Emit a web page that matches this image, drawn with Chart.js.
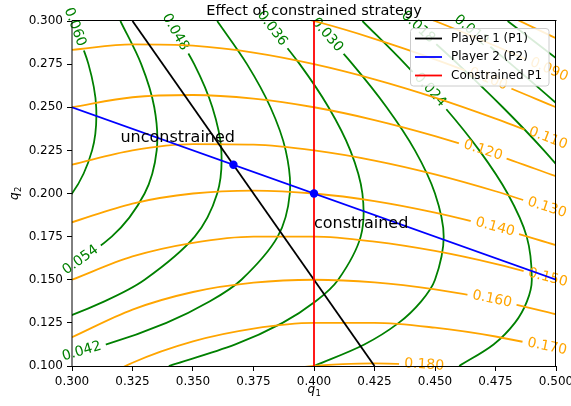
<!DOCTYPE html>
<html>
<head>
<meta charset="utf-8">
<script src="https://cdn.jsdelivr.net/npm/chart.js@4.4.1/dist/chart.umd.min.js"></script>
<style>
  html, body { margin: 0; padding: 0; background: #fff; }
</style>
</head>
<body>
<canvas id="chart" width="571" height="406"></canvas>
<script>
const FONT = '"DejaVu Sans", sans-serif';

// Grids the contour curves are sampled on
const q1Grid = [0.300, 0.325, 0.350, 0.375, 0.400, 0.425, 0.450, 0.475, 0.500];
const q2Grid = [0.100, 0.1125, 0.125, 0.1375, 0.150, 0.175, 0.200, 0.225, 0.250, 0.275, 0.300];

// Player 1 iso-profit curves (orange): q2 at each q1Grid value
const p1Levels = [0.080, 0.090, 0.100, 0.110, 0.120, 0.130, 0.140, 0.150, 0.160, 0.170, 0.180];
const p1Curves = [
  [0.3833, 0.3788, 0.3714, 0.3617, 0.3500, 0.3368, 0.3222, 0.3066, 0.2900],
  [0.3500, 0.3481, 0.3429, 0.3350, 0.3250, 0.3132, 0.3000, 0.2855, 0.2700],
  [0.3167, 0.3173, 0.3143, 0.3083, 0.3000, 0.2897, 0.2778, 0.2645, 0.2500],
  [0.2833, 0.2865, 0.2857, 0.2817, 0.2750, 0.2662, 0.2556, 0.2434, 0.2300],
  [0.2500, 0.2558, 0.2571, 0.2550, 0.2500, 0.2426, 0.2333, 0.2224, 0.2100],
  [0.2167, 0.2250, 0.2286, 0.2283, 0.2250, 0.2191, 0.2111, 0.2013, 0.1900],
  [0.1833, 0.1942, 0.2000, 0.2017, 0.2000, 0.1956, 0.1889, 0.1803, 0.1700],
  [0.1500, 0.1635, 0.1714, 0.1750, 0.1750, 0.1721, 0.1667, 0.1592, 0.1500],
  [0.1167, 0.1327, 0.1429, 0.1483, 0.1500, 0.1485, 0.1444, 0.1382, 0.1300],
  [0.0833, 0.1019, 0.1143, 0.1217, 0.1250, 0.1250, 0.1222, 0.1171, 0.1100],
  [0.0500, 0.0712, 0.0857, 0.0950, 0.1000, 0.1015, 0.1000, 0.0961, 0.0900]
];
const p1LabelAt = [
  null, [0.4971, 0.2718], [0.4720, 0.2663], [0.4967, 0.2320], [0.4698, 0.2250],
  [0.4963, 0.1918], [0.4748, 0.1805], [0.4966, 0.1512], [0.4736, 0.1387],
  [0.4963, 0.1112], [0.4455, 0.1007]
];

// Player 2 iso-profit curves (green): q1 at each q2Grid value
const p2Levels = [0.006, 0.012, 0.018, 0.024, 0.030, 0.036, 0.042, 0.048, 0.054, 0.060];
const p2Curves = [
  [0.6400, 0.6342, 0.6270, 0.6189, 0.6100, 0.5907, 0.5700, 0.5483, 0.5260, 0.5032, 0.4800],
  [0.5800, 0.5808, 0.5790, 0.5752, 0.5700, 0.5564, 0.5400, 0.5217, 0.5020, 0.4814, 0.4600],
  [0.5200, 0.5275, 0.5310, 0.5316, 0.5300, 0.5221, 0.5100, 0.4950, 0.4780, 0.4595, 0.4400],
  [0.4600, 0.4742, 0.4830, 0.4880, 0.4900, 0.4879, 0.4800, 0.4683, 0.4540, 0.4377, 0.4200],
  [0.4000, 0.4208, 0.4350, 0.4443, 0.4500, 0.4536, 0.4500, 0.4417, 0.4300, 0.4159, 0.4000],
  [0.3400, 0.3675, 0.3870, 0.4007, 0.4100, 0.4193, 0.4200, 0.4150, 0.4060, 0.3941, 0.3800],
  [0.2800, 0.3142, 0.3390, 0.3570, 0.3700, 0.3850, 0.3900, 0.3883, 0.3820, 0.3723, 0.3600],
  [0.2200, 0.2608, 0.2910, 0.3134, 0.3300, 0.3507, 0.3600, 0.3617, 0.3580, 0.3505, 0.3400],
  [0.1600, 0.2075, 0.2430, 0.2698, 0.2900, 0.3164, 0.3300, 0.3350, 0.3340, 0.3286, 0.3200],
  [0.1000, 0.1542, 0.1950, 0.2261, 0.2500, 0.2821, 0.3000, 0.3083, 0.3100, 0.3068, 0.3000]
];
const p2LabelAt = [
  null, [0.4650, 0.2945], [0.4430, 0.2965], [0.4480, 0.2600], [0.4054, 0.2919],
  [0.3827, 0.2957], [0.3040, 0.1085], [0.3427, 0.2936], [0.3035, 0.1614], [0.3012, 0.2965]
];

// Best responses and equilibria
const brQ2 = [0.100, 0.300];
const p1Best = [0.425, 0.325];
const brQ1 = [0.300, 0.500];
const p2Best = [0.250, 0.150];
const constrainedQ1 = 0.400;
const nashPoint = [0.3667, 0.2167];
const constrainedPoint = [0.400, 0.200];

const annotations = [
  { text: 'unconstrained', at: [0.320, 0.230] },
  { text: 'constrained', at: [0.400, 0.180] }
];

const ORANGE = '#ffa500', GREEN = '#008000';
const LABEL_FONT = '14px ' + FONT;

const datasets = [];
p1Levels.forEach((lvl, i) => {
  datasets.push({
    label: lvl.toFixed(3),
    data: q1Grid.map((x, j) => ({ x, y: p1Curves[i][j] })),
    showLine: true, borderColor: ORANGE, borderWidth: 1.8, pointRadius: 0,
    cubicInterpolationMode: 'monotone', order: 10,
    contour: true, labelAt: p1LabelAt[i]
  });
});
p2Levels.forEach((lvl, i) => {
  datasets.push({
    label: lvl.toFixed(3),
    data: q2Grid.map((y, j) => ({ x: p2Curves[i][j], y })),
    showLine: true, borderColor: GREEN, borderWidth: 1.8, pointRadius: 0,
    tension: 0.33, order: 10,
    contour: true, labelAt: p2LabelAt[i]
  });
});
datasets.push({
  label: 'Player 1 (P1)', inLegend: true,
  data: brQ2.map((y, i) => ({ x: p1Best[i], y })),
  showLine: true, borderColor: '#000', borderWidth: 1.8, pointRadius: 0, order: 5
});
datasets.push({
  label: 'Player 2 (P2)', inLegend: true,
  data: brQ1.map((x, i) => ({ x, y: p2Best[i] })),
  showLine: true, borderColor: '#0000ff', borderWidth: 1.8, pointRadius: 0, order: 4
});
datasets.push({
  label: 'Constrained P1', inLegend: true,
  data: brQ2.map(y => ({ x: constrainedQ1, y })),
  showLine: true, borderColor: '#ff0000', borderWidth: 1.8, pointRadius: 0, order: 3
});
datasets.push({
  label: 'points',
  data: [{ x: nashPoint[0], y: nashPoint[1] }, { x: constrainedPoint[0], y: constrainedPoint[1] }],
  showLine: false, pointRadius: 4.2, pointBackgroundColor: '#0000ff', pointBorderWidth: 0, order: 1
});

// where a contour label sits and how it is turned
function labelGeometry(chart, meta, at) {
  const cx = chart.scales.x.getPixelForValue(at[0]);
  const cy = chart.scales.y.getPixelForValue(at[1]);
  const pts = meta.data;
  const tang = i => {
    const a = pts[Math.max(0, i - 1)], b = pts[Math.min(pts.length - 1, i + 1)];
    return [b.x - a.x, b.y - a.y];
  };
  let best = Infinity, dir = [1, 0];
  for (let i = 0; i < pts.length - 1; i++) {
    const a = pts[i], b = pts[i + 1];
    const dx = b.x - a.x, dy = b.y - a.y;
    let t = ((cx - a.x) * dx + (cy - a.y) * dy) / (dx * dx + dy * dy);
    t = Math.max(0, Math.min(1, t));
    const d = (a.x + t * dx - cx) ** 2 + (a.y + t * dy - cy) ** 2;
    if (d < best) {
      best = d;
      const t0 = tang(i), t1 = tang(i + 1);
      const n0 = Math.hypot(t0[0], t0[1]), n1 = Math.hypot(t1[0], t1[1]);
      dir = [(1 - t) * t0[0] / n0 + t * t1[0] / n1, (1 - t) * t0[1] / n0 + t * t1[1] / n1];
    }
  }
  let ang = Math.atan2(dir[1], dir[0]);
  if (ang > Math.PI / 2) ang -= Math.PI;
  if (ang < -Math.PI / 2) ang += Math.PI;
  return { cx, cy, ang };
}

const contourLabels = {
  id: 'contourLabels',
  beforeDatasetDraw(chart, args) {
    const ds = chart.data.datasets[args.index];
    if (!ds.contour || !ds.labelAt) return;
    const ctx = chart.ctx;
    ctx.save();
    ctx.font = LABEL_FONT;
    const g = labelGeometry(chart, args.meta, ds.labelAt);
    const hw = ctx.measureText(ds.label).width / 2 + 5, hh = 9;
    const c = Math.cos(g.ang), s = Math.sin(g.ang);
    ctx.beginPath();
    ctx.rect(0, 0, chart.width, chart.height);
    [[-hw, -hh], [hw, -hh], [hw, hh], [-hw, hh]].forEach(([u, v], k) => {
      const px = g.cx + u * c - v * s, py = g.cy + u * s + v * c;
      if (k === 0) ctx.moveTo(px, py); else ctx.lineTo(px, py);
    });
    ctx.closePath();
    ctx.clip('evenodd');
  },
  afterDatasetDraw(chart, args) {
    const ds = chart.data.datasets[args.index];
    if (!ds.contour || !ds.labelAt) return;
    const ctx = chart.ctx;
    ctx.restore();
    const g = labelGeometry(chart, args.meta, ds.labelAt);
    ctx.save();
    ctx.translate(g.cx, g.cy);
    ctx.rotate(g.ang);
    ctx.font = LABEL_FONT;
    ctx.fillStyle = ds.borderColor;
    ctx.textAlign = 'center';
    ctx.textBaseline = 'middle';
    ctx.fillText(ds.label, 0, 0);
    ctx.restore();
  }
};

const decorations = {
  id: 'decorations',
  afterDatasetsDraw(chart) {
    const ctx = chart.ctx, a = chart.chartArea;
    ctx.save();
    ctx.lineWidth = 1;
    ctx.strokeStyle = '#000';
    ctx.beginPath();
    ctx.moveTo(a.left, a.top - 0.5); ctx.lineTo(a.right + 0.5, a.top - 0.5);
    ctx.moveTo(a.right - 0.5, a.top - 0.5); ctx.lineTo(a.right - 0.5, a.bottom + 0.5);
    ctx.moveTo(a.left, a.bottom + 0.5); ctx.lineTo(a.right, a.bottom + 0.5);
    ctx.stroke();
    ctx.beginPath();
    ctx.moveTo(a.left, a.top - 0.5); ctx.lineTo(a.left, a.bottom + 0.5);
    ctx.stroke();

    // annotations
    ctx.fillStyle = '#000';
    ctx.font = '16px ' + FONT;
    ctx.textAlign = 'left';
    ctx.textBaseline = 'alphabetic';
    annotations.forEach(n => {
      ctx.fillText(n.text, chart.scales.x.getPixelForValue(n.at[0]), chart.scales.y.getPixelForValue(n.at[1]));
    });
    ctx.restore();
  },
  afterDraw(chart) {
    const ctx = chart.ctx, a = chart.chartArea;
    ctx.save();
    // title
    ctx.fillStyle = '#000';
    ctx.font = '14.5px ' + FONT;
    ctx.textAlign = 'center';
    ctx.textBaseline = 'alphabetic';
    ctx.fillText('Effect of constrained strategy', (a.left + a.right) / 2, 15);

    // axis titles q1, q2
    const sub = (x, y, letter, idx) => {
      ctx.font = 'italic 12px ' + FONT;
      const wq = ctx.measureText(letter).width;
      ctx.font = '8.5px ' + FONT;
      const w1 = ctx.measureText(idx).width;
      const x0 = x - (wq + w1) / 2;
      ctx.textAlign = 'left';
      ctx.font = 'italic 12px ' + FONT;
      ctx.fillText(letter, x0, y);
      ctx.font = '8.5px ' + FONT;
      ctx.fillText(idx, x0 + wq + 0.5, y + 2.5);
    };
    sub((a.left + a.right) / 2, 393, 'q', '1');
    ctx.save();
    ctx.translate(18, (a.top + a.bottom) / 2);
    ctx.rotate(-Math.PI / 2);
    sub(0, 0, 'q', '2');
    ctx.restore();

    // legend
    const items = chart.data.datasets.filter(d => d.inLegend);
    const bx = 410.5, by = 28.5, bw = 138.5, bh = 57.5, r = 3;
    ctx.beginPath();
    ctx.moveTo(bx + r, by);
    ctx.arcTo(bx + bw, by, bx + bw, by + bh, r);
    ctx.arcTo(bx + bw, by + bh, bx, by + bh, r);
    ctx.arcTo(bx, by + bh, bx, by, r);
    ctx.arcTo(bx, by, bx + bw, by, r);
    ctx.closePath();
    ctx.fillStyle = 'rgba(255,255,255,0.85)';
    ctx.fill();
    ctx.strokeStyle = '#cccccc';
    ctx.lineWidth = 1;
    ctx.stroke();
    ctx.font = '12px ' + FONT;
    ctx.textAlign = 'left';
    ctx.textBaseline = 'middle';
    items.forEach((d, i) => {
      const y = 38.5 + i * 18.5;
      ctx.strokeStyle = d.borderColor;
      ctx.lineWidth = 1.8;
      ctx.beginPath();
      ctx.moveTo(415, y); ctx.lineTo(442, y);
      ctx.stroke();
      ctx.fillStyle = '#000';
      ctx.fillText(d.label, 451, y);
    });
    ctx.restore();
  }
};

const tickFont = { family: FONT, size: 12 };

new Chart(document.getElementById('chart'), {
  type: 'scatter',
  data: { datasets },
  options: {
    responsive: false,
    animation: false,
    devicePixelRatio: 1,
    layout: { padding: { top: 21, right: 15, left: 0, bottom: 0 } },
    plugins: { legend: { display: false }, tooltip: { enabled: false }, title: { display: false } },
    scales: {
      x: {
        type: 'linear', min: 0.3, max: 0.5,
        ticks: { stepSize: 0.025, callback: v => v.toFixed(3), font: tickFont, color: '#000', padding: 4, maxRotation: 0, autoSkip: false },
        grid: { display: true, drawOnChartArea: false, tickLength: 5, tickColor: '#000', tickWidth: 1 },
        border: { display: false },
        afterFit(s) { s.height = 40; s.paddingLeft = 0; s.paddingRight = 0; }
      },
      y: {
        type: 'linear', min: 0.1, max: 0.3,
        ticks: { stepSize: 0.025, callback: v => v.toFixed(3), font: tickFont, color: '#000', padding: 4, autoSkip: false },
        grid: { display: true, drawOnChartArea: false, tickLength: 5, tickColor: '#000', tickWidth: 1 },
        border: { display: false },
        afterFit(s) { s.width = 72; s.paddingTop = 0; s.paddingBottom = 0; }
      }
    }
  },
  plugins: [contourLabels, decorations]
});
</script>
</body>
</html>
